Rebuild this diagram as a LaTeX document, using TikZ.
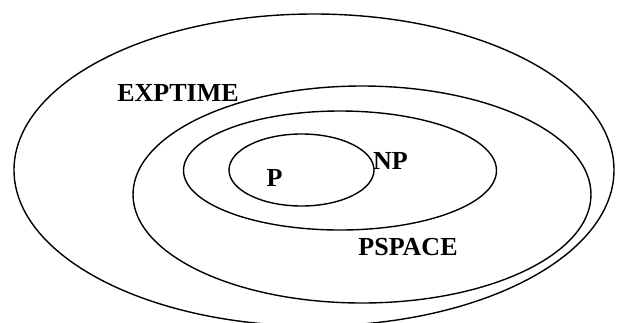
\documentclass[tikz,border=0pt]{standalone}
\usepackage{fontspec}
\setmainfont{Liberation Serif}
\usetikzlibrary{shapes.geometric}
\begin{document}
\begin{tikzpicture}[x=1pt,y=-1pt,
  setring/.style={draw=black,line width=1.4pt,ellipse,inner sep=0pt,outer sep=0pt},
  lbl/.style={font=\fontsize{26}{26}\selectfont\bfseries,inner sep=0pt,anchor=base}]
\clip (0,0) rectangle (618,322);
\fill[white] (0,0) rectangle (618,322);
\node[setring,minimum width=600pt,minimum height=312pt] (exptime) at (314,170) {};
\node[setring,minimum width=458pt,minimum height=217pt] (pspace) at (362,194.5) {};
\node[setring,minimum width=313pt,minimum height=119pt] (np) at (340,170.5) {};
\node[setring,minimum width=145pt,minimum height=72pt] (p) at (301.5,170) {};
\node[lbl] (lexp) at (178,101) {EXPTIME};
\node[lbl] (lnp) at (390.5,169) {NP};
\node[lbl] (lp) at (274.5,186) {P};
\node[lbl] (lps) at (408,255) {PSPACE};
\end{tikzpicture}
\end{document}
